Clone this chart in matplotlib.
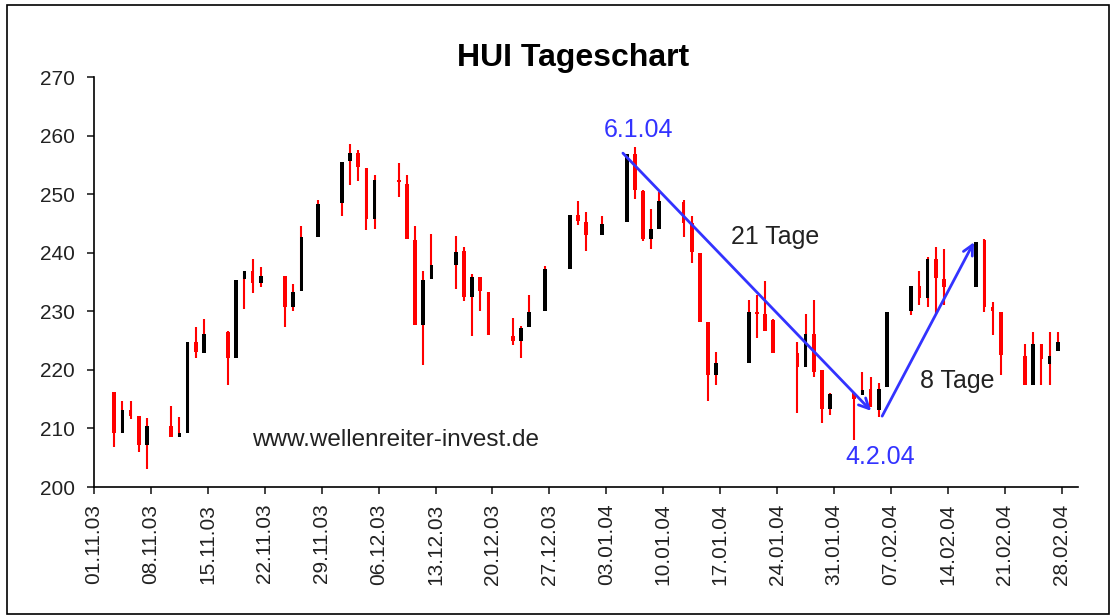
import numpy as np
import pandas as pd
import matplotlib
matplotlib.use("Agg")
import matplotlib.pyplot as plt
import matplotlib.dates as mdates
from matplotlib.patches import Rectangle

plt.rcParams['font.family'] = ['Liberation Sans', 'DejaVu Sans']

# Daily HUI data
dates = ['2003-11-03', '2003-11-04', '2003-11-05', '2003-11-06', '2003-11-07',
         '2003-11-10', '2003-11-11', '2003-11-12', '2003-11-13', '2003-11-14',
         '2003-11-17', '2003-11-18', '2003-11-19', '2003-11-20', '2003-11-21',
         '2003-11-24', '2003-11-25', '2003-11-26', '2003-11-28',
         '2003-12-01', '2003-12-02', '2003-12-03', '2003-12-04', '2003-12-05',
         '2003-12-08', '2003-12-09', '2003-12-10', '2003-12-11', '2003-12-12',
         '2003-12-15', '2003-12-16', '2003-12-17', '2003-12-18', '2003-12-19',
         '2003-12-22', '2003-12-23', '2003-12-24', '2003-12-26',
         '2003-12-29', '2003-12-30', '2003-12-31', '2004-01-02',
         '2004-01-05', '2004-01-06', '2004-01-07', '2004-01-08', '2004-01-09',
         '2004-01-12', '2004-01-13', '2004-01-14', '2004-01-15', '2004-01-16',
         '2004-01-20', '2004-01-21', '2004-01-22', '2004-01-23',
         '2004-01-26', '2004-01-27', '2004-01-28', '2004-01-29', '2004-01-30',
         '2004-02-02', '2004-02-03', '2004-02-04', '2004-02-05', '2004-02-06',
         '2004-02-09', '2004-02-10', '2004-02-11', '2004-02-12', '2004-02-13',
         '2004-02-17', '2004-02-18', '2004-02-19', '2004-02-20',
         '2004-02-23', '2004-02-24', '2004-02-25', '2004-02-26', '2004-02-27']

opens = [216.3, 209.2, 213.1, 212.2, 207.2,
         210.5, 208.5, 209.2, 224.8, 222.8,
         226.4, 222.1, 235.5, 236.8, 234.8,
         236.1, 230.8, 233.5, 242.7,
         248.5, 255.7, 257.0, 254.5, 245.8,
         252.4, 251.8, 242.2, 227.7, 235.5,
         237.9, 240.3, 232.5, 235.8, 233.3,
         225.8, 224.9, 227.4, 230.0,
         237.3, 246.4, 245.3, 243.0,
         245.2, 256.9, 250.6, 242.3, 244.0,
         248.6, 245.0, 239.9, 228.2, 219.1,
         221.2, 229.9, 229.6, 228.5,
         222.8, 220.5, 226.1, 220.0, 213.4,
         216.0, 215.7, 216.8, 213.1, 217.1,
         230.1, 234.4, 232.2, 238.9, 235.5,
         234.2, 242.1, 230.7, 229.9,
         222.4, 217.4, 224.4, 221.0, 223.3]

highs = [216.3, 214.6, 214.6, 212.2, 211.8,
         213.9, 211.9, 224.8, 227.3, 228.6,
         226.6, 235.3, 236.8, 238.9, 237.5,
         236.1, 234.7, 244.6, 249.0,
         255.5, 258.6, 257.6, 254.5, 253.2,
         255.3, 253.2, 244.6, 236.8, 243.2,
         242.9, 240.9, 236.4, 235.8, 233.3,
         228.9, 227.5, 232.7, 237.8,
         246.4, 248.8, 247.0, 246.3,
         256.9, 258.0, 250.7, 247.4, 250.4,
         249.0, 246.2, 239.9, 228.2, 223.1,
         231.9, 232.8, 235.1, 228.6,
         224.8, 229.6, 231.9, 220.0, 216.0,
         216.0, 219.7, 218.7, 217.7, 229.9,
         234.4, 236.8, 239.3, 240.9, 240.6,
         241.9, 242.3, 231.6, 229.9,
         224.4, 226.5, 224.4, 226.5, 226.5]

lows = [206.8, 209.2, 211.6, 206.0, 203.0,
        208.5, 208.5, 209.2, 222.1, 222.8,
        217.4, 222.1, 230.4, 233.1, 234.1,
        227.3, 230.0, 233.5, 242.7,
        246.2, 251.6, 252.3, 243.8, 244.0,
        249.5, 242.3, 227.7, 220.8, 235.5,
        233.8, 231.8, 225.7, 230.0, 226.0,
        224.2, 222.1, 227.4, 230.0,
        237.3, 244.7, 240.3, 243.0,
        245.2, 249.2, 242.0, 240.7, 244.0,
        242.7, 238.3, 228.2, 214.7, 217.4,
        221.2, 225.4, 226.7, 222.9,
        212.6, 220.5, 218.8, 210.9, 212.3,
        208.0, 215.7, 213.7, 212.0, 217.1,
        229.4, 231.1, 230.8, 229.5, 231.1,
        234.2, 229.9, 226.0, 219.1,
        217.4, 217.4, 217.4, 217.4, 223.3]

closes = [209.2, 213.1, 212.2, 207.2, 210.5,
          208.5, 209.2, 224.8, 223.0, 226.2,
          222.1, 235.3, 236.8, 234.8, 236.1,
          230.8, 233.3, 242.6, 248.4,
          255.5, 257.0, 254.7, 245.8, 252.5,
          252.0, 242.3, 227.7, 235.3, 237.9,
          240.2, 232.5, 235.8, 233.5, 226.0,
          224.9, 227.2, 229.9, 237.2,
          246.4, 245.4, 243.0, 244.9,
          256.9, 250.7, 242.3, 244.0, 248.8,
          245.0, 240.2, 228.2, 219.1, 221.1,
          229.9, 229.6, 226.7, 222.9,
          220.5, 226.2, 219.7, 213.4, 215.9,
          215.0, 216.6, 213.7, 216.8, 229.9,
          234.4, 232.2, 238.9, 235.6, 234.2,
          241.9, 230.7, 230.1, 222.5,
          217.4, 224.4, 221.8, 222.3, 224.8]

# annotations: (date, value)
arrow_down = [('2004-01-05 01:00', 257.0), ('2004-02-04 13:30', 213.0)]
arrow_up = [('2004-02-05 22:00', 212.1), ('2004-02-17 05:00', 241.8)]

# Plotting
t = pd.to_datetime(dates) + pd.Timedelta(hours=12)
x = mdates.date2num(t)
o = np.array(opens)
c = np.array(closes)
up = c >= o
body_col = np.where(up, 'black', 'red')

fig = plt.figure(figsize=(11.17, 6.16), dpi=100)
ax = fig.add_axes([94 / 1117, 1 - 487 / 616, 984 / 1117, 410 / 616])

ax.vlines(x, lows, highs, color='red', lw=1.5, zorder=2)
hgt = np.where(np.abs(c - o) < 0.3, 0.3 * np.sign(c - o + 1e-9), c - o)
ax.bar(x, hgt, bottom=o, width=0.46, color=body_col, linewidth=0, zorder=3)

ax.set_ylim(200, 270)
ax.set_yticks(np.arange(200, 271, 10))
ax.set_xlim(mdates.date2num(pd.Timestamp('2003-11-01')),
            mdates.date2num(pd.Timestamp('2004-03-01')))
ticks = pd.date_range('2003-11-01', '2004-02-28', freq='7D')
ax.set_xticks(mdates.date2num(ticks))
ax.set_xticklabels([d.strftime('%d.%m.%y') for d in ticks], rotation=90)

for s in ['top', 'right']:
    ax.spines[s].set_visible(False)
ax.spines['left'].set_linewidth(1.2)
ax.spines['bottom'].set_linewidth(1.2)
ax.tick_params(axis='y', length=5, width=1.2, pad=9, labelsize=15, colors='#222222')
ax.tick_params(axis='x', length=5, width=1.2, pad=7, labelsize=15, colors='#222222')

fig.text(573 / 1117, 1 - 58 / 616, 'HUI Tageschart', fontsize=23,
         fontweight='bold', ha='center', va='center')

blue = '#3333ff'
for a in [arrow_down, arrow_up]:
    p0 = (mdates.date2num(pd.Timestamp(a[0][0])), a[0][1])
    p1 = (mdates.date2num(pd.Timestamp(a[1][0])), a[1][1])
    ax.annotate('', xy=p1, xytext=p0,
                arrowprops=dict(arrowstyle='->', color=blue, lw=2,
                                mutation_scale=18, shrinkA=0, shrinkB=0),
                zorder=5)

def dn(s):
    return mdates.date2num(pd.Timestamp(s))

ax.text(dn('2004-01-07'), 260.9, '6.1.04', color=blue, fontsize=18,
        ha='center', va='center')
ax.text(dn('2004-01-23 19:00'), 242.7, '21 Tage', color='#222222', fontsize=18,
        ha='center', va='center')
ax.text(dn('2004-02-15 03:00'), 218.1, '8 Tage', color='#222222', fontsize=18,
        ha='center', va='center')
ax.text(dn('2004-02-05 17:00'), 205.1, '4.2.04', color=blue, fontsize=18,
        ha='center', va='center')
ax.text(dn('2003-12-08 03:00'), 208.0, 'www.wellenreiter-invest.de',
        color='#222222', fontsize=17.5, ha='center', va='center')

# chart border
fig.patches.append(Rectangle((7 / 1117, 2 / 616), 1102 / 1117, 609 / 616,
                             transform=fig.transFigure, fill=False,
                             edgecolor='black', lw=1.2))

fig.savefig('out.png', dpi=100)
